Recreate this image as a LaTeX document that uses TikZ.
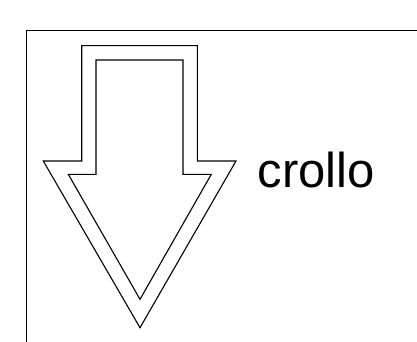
\documentclass[tikz,border=0pt]{standalone}
\usepackage{fontspec}
\setmainfont{Liberation Sans}
\begin{document}
\begin{tikzpicture}[x=1pt,y=-1pt,
  frameline/.style={line width=1.4pt,line cap=rect},
  arrowline/.style={line width=1.1pt,line join=miter},
  lbl/.style={font=\fontsize{49}{52}\selectfont,inner sep=0pt,anchor=base west}]
\useasboundingbox (0,0) rectangle (417,342);
% frame
\draw[frameline] (26.7,344) -- (26.7,30.7) -- (420,30.7);
% outer arrow
\draw[arrowline] (81.7,45.7) -- (197.3,45.7) -- (197.3,161) -- (236,161) -- (140,327.7) -- (43.3,161) -- (81.7,161) -- cycle;
% inner arrow
\draw[arrowline] (96,60) -- (183,60) -- (183,174.3) -- (211.3,174.3) -- (140,299.3) -- (68.3,174.3) -- (96,174.3) -- cycle;
\node[lbl] (t) at (257.5,187.5) {crollo};
\end{tikzpicture}
\end{document}
